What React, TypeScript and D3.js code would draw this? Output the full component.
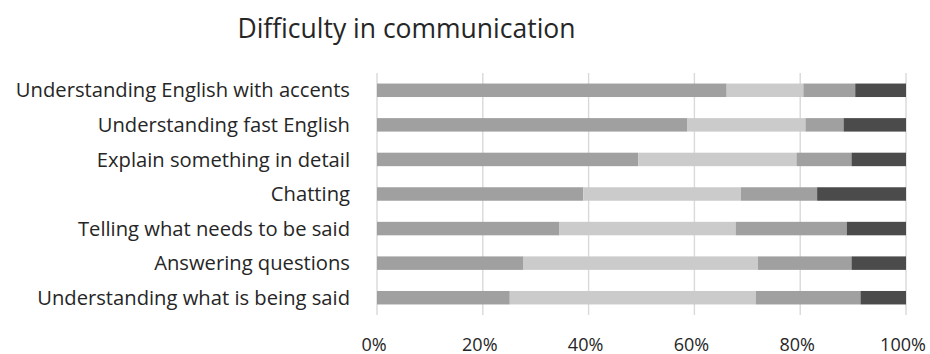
import React, { useEffect, useRef } from "react";
import * as d3 from "d3";

const title = "Difficulty in communication";
const categories = [
  "Understanding English with accents",
  "Understanding fast English",
  "Explain something in detail",
  "Chatting",
  "Telling what needs to be said",
  "Answering questions",
  "Understanding what is being said",
];
const seriesNames = ["Very difficult", "Somewhat difficult", "Not very difficult", "Not difficult"];
const veryDifficult = [66.1, 58.6, 49.4, 39.0, 34.5, 27.7, 25.1];
const somewhatDifficult = [14.5, 22.4, 29.9, 29.8, 33.3, 44.3, 46.5];
const notVeryDifficult = [9.8, 7.2, 10.4, 14.4, 21.0, 17.7, 19.8];
const notDifficult = [9.6, 11.8, 10.3, 16.8, 11.2, 10.3, 8.6];
const tickValues = [0, 0.2, 0.4, 0.6, 0.8, 1.0];
const seriesColors = ["#a0a0a0", "#cbcbcb", "#a0a0a0", "#4b4b4b"];

const W = 930;
const H = 354;
const FONT = "'Open Sans', 'Noto Sans', sans-serif";
const LABEL_SIZE = 20.2;

export default function App() {
  const ref = useRef<SVGSVGElement>(null);

  useEffect(() => {
    const svg = d3.select(ref.current);
    svg.selectAll("*").remove();

    const rows = categories.map((c, i) => {
      const vals = [veryDifficult[i], somewhatDifficult[i], notVeryDifficult[i], notDifficult[i]];
      const total = d3.sum(vals);
      const obj: any = { category: c };
      seriesNames.forEach((s, k) => (obj[s] = vals[k] / total));
      return obj;
    });

    const stack = d3.stack<any>().keys(seriesNames);
    const stacked = stack(rows);

    const x = d3.scaleLinear().domain([0, 1]).range([377, 906]);
    const y = d3
      .scaleBand<string>()
      .domain(categories)
      .range([73, 315])
      .paddingInner(0.61)
      .paddingOuter(0.305);

    svg
      .append("rect")
      .attr("width", W)
      .attr("height", H)
      .attr("fill", "#ffffff");

    // gridlines
    svg
      .append("g")
      .selectAll("line")
      .data(tickValues)
      .join("line")
      .attr("x1", (d) => x(d))
      .attr("x2", (d) => x(d))
      .attr("y1", 73)
      .attr("y2", 315)
      .attr("stroke", "#d9d9d9")
      .attr("stroke-width", 1.4);

    // bars
    svg
      .append("g")
      .selectAll("g")
      .data(stacked)
      .join("g")
      .attr("fill", (_d, i) => seriesColors[i])
      .selectAll("rect")
      .data((d) => d)
      .join("rect")
      .attr("x", (d) => x(d[0]))
      .attr("width", (d) => x(d[1]) - x(d[0]))
      .attr("y", (d) => y(d.data.category) as number)
      .attr("height", y.bandwidth());

    // category labels
    svg
      .append("g")
      .selectAll("text")
      .data(categories)
      .join("text")
      .attr("x", 350)
      .attr("y", (d) => (y(d) as number) + y.bandwidth() / 2 + LABEL_SIZE * 0.357)
      .attr("text-anchor", "end")
      .attr("font-family", FONT)
      .attr("font-size", LABEL_SIZE)
      .attr("fill", "#262626")
      .text((d) => d);

    // tick labels
    svg
      .append("g")
      .selectAll("text")
      .data(tickValues)
      .join("text")
      .attr("x", (d) => x(d) - 3)
      .attr("y", 351)
      .attr("text-anchor", "middle")
      .attr("font-family", FONT)
      .attr("font-size", 18)
      .attr("fill", "#262626")
      .text((d) => d3.format(".0%")(d));

    // title
    svg
      .append("text")
      .attr("x", 406.5)
      .attr("y", 37.5)
      .attr("text-anchor", "middle")
      .attr("font-family", FONT)
      .attr("font-size", 26.5)
      .attr("fill", "#262626")
      .text(title);
  }, []);

  return (
    <div style={{ position: "absolute", left: 0, top: 0 }}>
      <svg ref={ref} width={W} height={H} style={{ display: "block" }} />
    </div>
  );
}
